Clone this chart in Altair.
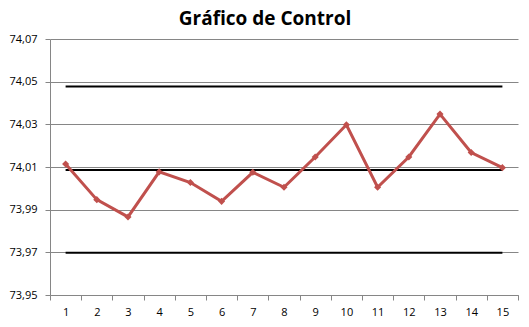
import altair as alt
import pandas as pd

samples = [str(i) for i in range(1, 16)]
values = [74.0114, 73.9947, 73.9866, 74.0077, 74.0027, 73.9939, 74.0075, 74.0005,
          74.0147, 74.0298, 74.0005, 74.0147, 74.0348, 74.0168, 74.0097]
limit_names = ["LSC", "LC", "LIC"]
limit_values = [74.0477, 74.0086, 73.9698]
y_ticks = [73.95, 73.97, 73.99, 74.01, 74.03, 74.05, 74.07]

df = pd.DataFrame({"muestra": samples, "valor": values})
lim = pd.DataFrame({"nombre": limit_names, "valor": limit_values,
                    "x1": [samples[0]] * 3, "x2": [samples[-1]] * 3})

FONT = "Open Sans"
x_scale = alt.Scale(domain=samples, paddingInner=0, paddingOuter=0)
y_scale = alt.Scale(domain=[73.95, 74.07], nice=False, zero=False)

x_axis = alt.Axis(title=None, labelAngle=0, tickBand="extent", grid=False,
                  domainColor="#868686", tickColor="#868686", tickSize=5,
                  labelFont=FONT, labelFontSize=11, labelColor="#000000", labelPadding=6)
y_axis = alt.Axis(title=None, values=y_ticks, grid=True, gridColor="#868686",
                  domainColor="#868686", tickColor="#868686", tickSize=5,
                  labelFont=FONT, labelFontSize=11, labelColor="#000000", labelPadding=8,
                  labelExpr="replace(format(datum.value, '.2f'), '.', ',')")

rules = alt.Chart(lim).mark_rule(color="#000000", strokeWidth=2).encode(
    x=alt.X("x1:O", scale=x_scale, axis=x_axis, sort=samples),
    x2="x2:O",
    y=alt.Y("valor:Q", scale=y_scale, axis=y_axis),
)

line = alt.Chart(df).mark_line(color="#C0504D", strokeWidth=3,
                               point=alt.OverlayMarkDef(shape="diamond", size=50, color="#C0504D", filled=True)).encode(
    x=alt.X("muestra:O", scale=x_scale, axis=x_axis, sort=samples),
    y=alt.Y("valor:Q", scale=y_scale, axis=y_axis),
)

chart = alt.layer(rules, line).properties(
    width=468, height=256,
    title=alt.TitleParams("Gráfico de Control", font=FONT, fontSize=19, fontWeight="bold",
                          color="#000000", anchor="middle", dx=-19, offset=4),
    autosize=alt.AutoSizeParams(type="none"),
    padding={"left": 50, "top": 39, "right": 11, "bottom": 32},
).configure_view(stroke=None)

chart.save("out.html", embed_options={"renderer": "svg", "actions": False})
